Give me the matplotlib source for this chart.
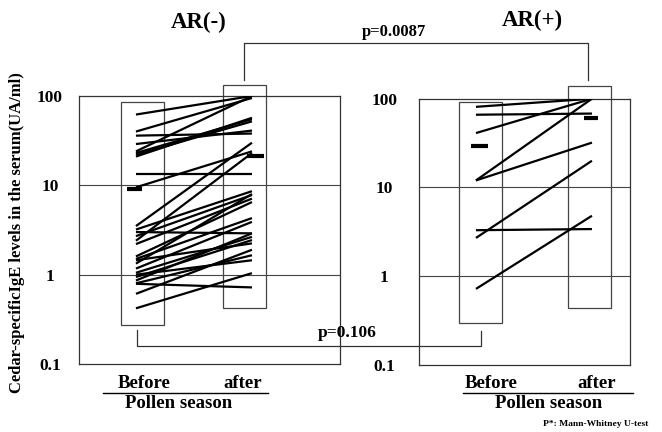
import matplotlib
matplotlib.use("Agg")
import matplotlib.pyplot as plt
from matplotlib.patches import Rectangle

plt.rcParams["font.family"] = ["Liberation Serif", "DejaVu Serif"]
plt.rcParams["font.weight"] = "bold"

# Cedar-specific IgE (UA/ml), paired before / after pollen season
neg_before = [62, 40, 36, 29, 24, 23, 22, 21, 13.4, 9.5, 3.5, 3.2, 3.0, 2.7, 2.4,
              2.2, 1.6, 1.5, 1.33, 1.17, 1.05, 0.94, 0.86, 0.79, 0.61, 0.42,
              1.45, 0.8, 1.0]
neg_after = [100, 95, 38, 41, 100, 55, 52, 57, 13.4, 24, 30, 8.6, 2.9, 7.8, 23,
             7.1, 6.5, 4.3, 8.0, 3.9, 2.65, 2.44, 2.9, 0.72, 1.9, 1.04,
             2.24, 1.65, 1.45]
neg_means = [9.2, 21.5]
neg_ranges = [(0.27, 86), (0.42, 133)]

pos_before = [81, 66, 41, 12, 12, 3.3, 2.7, 0.72]
pos_after = [100, 68, 100, 100, 32, 3.4, 20, 4.8]
pos_means = [29.6, 61]
pos_ranges = [(0.30, 92), (0.44, 139)]

ticks = [0.1, 1, 10, 100]
tick_labels = ["0.1", "1", "10", "100"]

W, H = 662, 432
fig = plt.figure(figsize=(W / 100, H / 100), dpi=100)


def px_axes(x0, x1, ytop, ybot):
    return fig.add_axes([x0 / W, (H - ybot) / H, (x1 - x0) / W, (ybot - ytop) / H])


def draw_panel(ax, before, after, means, ranges, xlim, box_x, mean_x, label_pad):
    ax.set_yscale("log")
    ax.set_ylim(0.1, 100)
    ax.set_xlim(*xlim)
    ax.set_xticks([])
    ax.set_yticks(ticks)
    ax.set_yticklabels(tick_labels, fontsize=12.5, fontweight="bold")
    ax.minorticks_off()
    ax.tick_params(axis="y", length=0, pad=label_pad)
    for t in ax.get_yticklabels():
        t.set_horizontalalignment("center")
    for s in ax.spines.values():
        s.set_linewidth(0.9)
        s.set_color("#333333")
    for g in (1, 10):
        ax.axhline(g, color="#444444", lw=0.8, zorder=1)

    # range boxes for each time point (may rise above the frame)
    for (lo, hi), bx in zip(ranges, box_x):
        ax.add_patch(Rectangle((bx - 0.185, lo), 0.37, hi - lo, fill=False,
                               edgecolor="#444444", lw=0.9, zorder=2, clip_on=False))

    for b, a in zip(before, after):
        ax.plot([0, 1], [b, a], color="black", lw=1.6, solid_capstyle="butt", zorder=3)

    # geometric mean markers
    for m, (xa, xb) in zip(means, mean_x):
        ax.plot([xa, xb], [m, m], color="black", lw=3, solid_capstyle="butt", zorder=4)


ax_neg = px_axes(79, 340, 96, 364)
draw_panel(ax_neg, neg_before, neg_after, neg_means, neg_ranges,
           (-0.491, 1.759), (0.056, 0.935), [(-0.08, 0.05), (0.96, 1.10)], 21)

ax_pos = px_axes(419, 630, 98.7, 365)
draw_panel(ax_pos, pos_before, pos_after, pos_means, pos_ranges,
           (-0.491, 1.328), (0.043, 0.98), [(-0.04, 0.10), (0.93, 1.05)], 25)

# overlay in pixel coordinates for titles, brackets and captions
ov = fig.add_axes([0, 0, 1, 1], zorder=10)
ov.set_xlim(0, W)
ov.set_ylim(H, 0)
ov.axis("off")
ov.patch.set_alpha(0)

ov.text(199, 22, "AR(-)", ha="center", va="center", fontsize=16.5, fontweight="bold")
ov.text(532, 20, "AR(+)", ha="center", va="center", fontsize=16.5, fontweight="bold")

ov.plot([244, 244, 588, 588], [80, 43, 43, 80], color="#333333", lw=0.9)
ov.text(394, 32, "p=0.0087", ha="center", va="center", fontsize=12, fontweight="bold")

ov.plot([137, 137, 481, 481], [330, 346, 346, 331], color="#333333", lw=0.9)
ov.text(347, 333, "p=0.106", ha="center", va="center", fontsize=12.5, fontweight="bold")

ov.text(17, 233, "Cedar-specificIgE levels in the serum(UA/ml)", rotation=90,
        ha="center", va="center", fontsize=12, fontweight="bold")

for xb, xa, u0, u1, xc in [(144, 243, 103, 268, 179), (491, 597, 463, 633, 549)]:
    ov.text(xb, 384, "Before", ha="center", va="center", fontsize=13.5, fontweight="bold")
    ov.text(xa, 384, "after", ha="center", va="center", fontsize=13.5, fontweight="bold")
    ov.plot([u0, u1], [393, 393], color="black", lw=1.0)
    ov.text(xc, 403, "Pollen season", ha="center", va="center", fontsize=13.5,
            fontweight="bold")

ov.text(648, 424, "P*: Mann-Whitney U-test", ha="right", va="center", fontsize=6.8,
        fontweight="bold")

fig.savefig("out.png", dpi=100)
